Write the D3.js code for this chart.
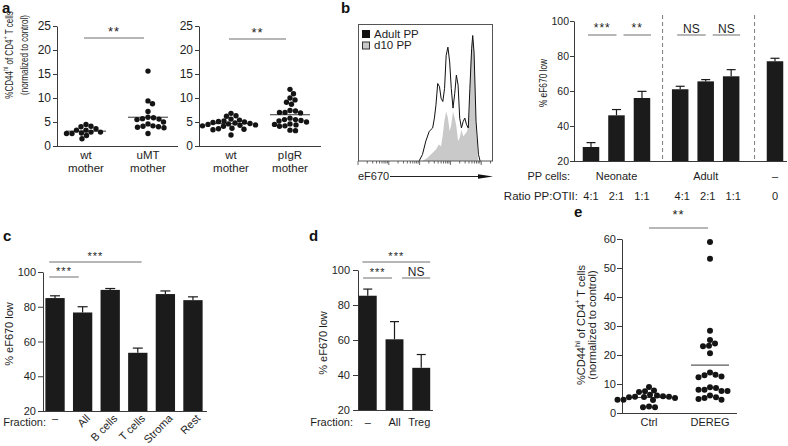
<!DOCTYPE html>
<html><head><meta charset="utf-8">
<script src="https://cdn.jsdelivr.net/npm/d3@7"></script>
<style>
body{margin:0;background:#fff;}
svg{display:block;font-family:"Liberation Sans",Arial,Helvetica,sans-serif;}
</style></head><body>
<svg id="fig" width="788" height="446"></svg>
<script>
// ---------------- DATA ----------------
// panel a (left): %CD44hi of CD4+ T cells
const a1Cats = ["wt", "uMT"];
const a1Wt  = [3.3, 2.9, 2.2, 4.1, 3.3, 1.5, 4.5, 2.9, 2.6, 4.0, 2.7, 2.6, 3.6];
const a1Umt = [15.6, 9.4, 8.8, 7.2, 5.6, 5.9, 5.7, 6.0, 5.5, 5.0, 4.1, 4.0, 4.2, 3.9, 3.8, 2.6, 4.6];
// panel a (right)
const a2Cats = ["wt", "pIgR"];
const a2Wt   = [6.8, 6.3, 6.2, 5.6, 5.4, 5.2, 5.0, 5.1, 4.8, 4.6, 4.4, 4.3, 4.1, 4.5, 4.2, 3.7, 3.5, 3.6, 3.4, 2.3, 4.7, 4.9];
const a2Pigr = [11.8, 10.9, 10.0, 9.6, 9.1, 8.7, 7.4, 7.0, 7.0, 6.9, 7.3, 5.5, 5.2, 5.0, 5.3, 5.5, 4.6, 4.4, 4.2, 4.5, 4.1, 3.2, 3.3, 5.8];
const aTicks = [0, 5, 10, 15, 20, 25];

// panel b histogram (eF670 intensity, % of max count)
const adultX      = [96,124,159,206,265,302,340,387,442,498,567,646,728,830,945,1066,1214,1383,1560,1775,2004,2282,2600,2931,3338,3802,4285,4884,5293,5848,6796,8147,9183];
const adultCounts = [0,4.8,14.5,21.7,24.1,31.3,41.0,56.6,54.2,45.8,43.4,53.0,77.1,83.1,72.3,53.0,38.6,49.4,62.7,55.4,31.3,24.1,28.9,31.3,26.5,24.1,53.0,81.9,91.6,79.5,28.9,4.8,0];
const d10X        = [124,181,265,340,420,498,567,646,728,830,945,1066,1214,1383,1560,1775,2004,2282,2600,2931,3508,4081,4550,5140,5559,6150,6796,7900];
const d10Counts   = [0,2.4,6.0,8.4,12.0,10.8,19.3,30.1,36.1,31.3,21.7,26.5,36.1,31.3,25.3,14.5,16.9,22.9,18.1,19.3,21.7,34,74,89,88,72,26,0];
const histLegend  = ["Adult PP", "d10 PP"];

// panel b bars: % eF670 low
const bGroups = ["Neonate", "Adult", "\u2013"];
const bGroupOf = [0, 0, 0, 1, 1, 1, 2];
const bRatios = ["4:1", "2:1", "1:1", "4:1", "2:1", "1:1", "0"];
const bMeans = [28.0, 46.1, 56.0, 61.0, 65.5, 68.4, 77.0];
const bErr   = [2.5, 3.3, 3.8, 1.7, 1.0, 3.8, 1.7];
const bSig   = [[0, 1, "***"], [1, 2, "**"], [3, 4, "NS"], [4, 5, "NS"]];
const pctTicks = [20, 40, 60, 80, 100];

// panel c
const cCats  = ["\u2013", "All", "B cells", "T cells", "Stroma", "Rest"];
const cMeans = [85.0, 76.7, 89.7, 53.5, 87.3, 83.8];
const cErr   = [1.3, 3.3, 0.8, 2.7, 1.8, 1.9];
const cSig   = [["\u2013", "All", "***"], ["\u2013", "T cells", "***"]];

// panel d
const dCats  = ["\u2013", "All", "Treg"];
const dMeans = [85.3, 60.4, 44.1];
const dErr   = [3.8, 10.1, 7.6];
const dSig   = [["\u2013", "All", "***"], ["All", "Treg", "NS"], ["\u2013", "Treg", "***"]];

// panel e
const eCats  = ["Ctrl", "DEREG"];
const eCtrl  = [9.0, 7.8, 7.2, 7.5, 5.6, 5.4, 5.8, 6.0, 5.5, 5.6, 4.6, 4.5, 4.6, 2.2, 2.0, 2.0, 5.2, 6.3];
const eDereg = [59, 53.2, 28.4, 25.2, 24, 23, 23.2, 20.6, 14, 13, 12.3, 12.6, 13.2, 8.6, 8.0, 7.6, 7.6, 8.0, 8.9, 5.2, 4.8, 4.6, 5.4, 6.0];
const eTicks = [0, 10, 20, 30, 40, 50, 60];

// ---------------- HELPERS ----------------
const svg = d3.select("#fig");
const AX = "#3a3a3a", BAR = "#1b1b1b", DOT = "#141414", SIG = "#6e6e6e", TXT = "#1e1e1e";

function leftAxis(scale, ticks, x, fs, size, pad) {
  const g = svg.append("g").attr("transform", `translate(${x},0)`)
    .call(d3.axisLeft(scale).tickValues(ticks).tickSize(size).tickPadding(pad).tickSizeOuter(0));
  g.select(".domain").attr("stroke", AX);
  g.selectAll(".tick line").attr("stroke", AX);
  g.selectAll(".tick text").attr("fill", TXT).attr("font-size", fs)
    .attr("font-family", '"Liberation Sans",Arial,sans-serif');
  return g;
}
function hLine(x1, x2, y, color) {
  svg.append("line").attr("x1", x1).attr("x2", x2).attr("y1", y).attr("y2", y)
    .attr("stroke", color || AX).attr("stroke-width", 1);
}
function txt(x, y, s, fs, anchor, extra) {
  const t = svg.append("text").attr("x", x).attr("y", y).text(s)
    .attr("font-size", fs).attr("text-anchor", anchor || "middle").attr("fill", TXT);
  if (extra) extra(t);
  return t;
}
function sig(x1, x2, y, label, fs, off) {
  hLine(x1, x2, y, SIG);
  const isStar = label.indexOf("*") >= 0;
  txt((x1 + x2) / 2, y - (off || 2), label, isStar ? fs + 1 : fs, "middle",
      t => t.attr("letter-spacing", isStar ? 1 : 0));
}
function rotTitle(x, y, parts, fs, sx) {
  const t = svg.append("text")
    .attr("transform", `translate(${x},${y}) rotate(-90) scale(${sx || 1},1)`)
    .attr("text-anchor", "middle").attr("font-size", fs).attr("fill", TXT);
  let shifted = false;
  parts.forEach(p => {
    const sp = t.append("tspan").text(p.t);
    if (p.sup) { sp.attr("font-size", fs * 0.68).attr("dy", -fs * 0.42); shifted = true; }
    else if (shifted) { sp.attr("dy", fs * 0.42); shifted = false; }
  });
}
const cd44Title = [{t: "%CD44"}, {t: "hi", sup: true}, {t: " of CD4"}, {t: "+", sup: true}, {t: " T cells"}];

// simple beeswarm: place each point as close to centre as possible without heavy overlap
function swarm(values, yScale, cx, r) {
  const pts = values.map(v => ({v, y: yScale(v)})).sort((a, b) => a.y - b.y);
  const placed = [];
  const d = 2 * r * 0.98;
  pts.forEach(p => {
    for (let k = 0; k < 400; k++) {
      const off = (k % 2 ? 1 : -1) * Math.ceil(k / 2) * 0.5;
      const x = cx + off;
      if (placed.every(q => (q.x - x) ** 2 + (q.y - p.y) ** 2 >= d * d)) { p.x = x; break; }
    }
    placed.push(p);
  });
  return placed;
}
function dotGroup(values, yScale, cx, r, halfW) {
  const m = d3.mean(values);
  hLine(cx - halfW, cx + halfW, yScale(m), "#333");
  svg.append("g").selectAll("circle").data(swarm(values, yScale, cx, r)).join("circle")
    .attr("cx", d => d.x).attr("cy", d => d.y).attr("r", r).attr("fill", DOT);
}
function panelLabel(x, y, s) {
  txt(x, y, s, 15, "start", t => t.attr("font-weight", "bold").attr("fill", "#111"));
}
function bars(cats, means, errs, x, y, bw, cap) {
  const g = svg.append("g");
  cats.forEach((c, i) => {
    const xc = x(c, i);
    g.append("line").attr("x1", xc).attr("x2", xc).attr("y1", y(means[i])).attr("y2", y(means[i] + errs[i]))
      .attr("stroke", BAR).attr("stroke-width", 1.2);
    g.append("line").attr("x1", xc - cap / 2).attr("x2", xc + cap / 2)
      .attr("y1", y(means[i] + errs[i])).attr("y2", y(means[i] + errs[i]))
      .attr("stroke", BAR).attr("stroke-width", 1.2);
    g.append("rect").attr("x", xc - bw / 2).attr("width", bw)
      .attr("y", y(means[i])).attr("height", y.range()[0] - y(means[i])).attr("fill", BAR);
  });
}

// ---------------- PANEL A ----------------
panelLabel(2, 13, "a");
const yA = d3.scaleLinear().domain([0, 25]).range([146, 26]);
rotTitle(13, 55, cd44Title, 11, 0.73);
rotTitle(28, 55, [{t: "(normalized to control)"}], 11, 0.73);

function aPanel(axisX, endX, cats, series, range, sigY) {
  const x = d3.scalePoint().domain(cats).range(range);
  leftAxis(yA, aTicks, axisX, 12, 4, 2);
  hLine(axisX, endX, yA(0) + 0.5);
  series.forEach((vals, i) => dotGroup(vals, yA, x(cats[i]), 2.7, 20));
  cats.forEach(c => {
    txt(x(c), 158.5, c, 11.5);
    txt(x(c), 171.5, "mother", 11.5);
  });
  sig(x(cats[0]) - 2, x(cats[1]) - 4, sigY, "**", 12, 2);
}
aPanel(57, 178, a1Cats, [a1Wt, a1Umt], [86, 148], 38);
aPanel(199, 321, a2Cats, [a2Wt, a2Pigr], [231, 290], 39);

// ---------------- PANEL B (histogram) ----------------
panelLabel(341, 13, "b");
const hx = d3.scaleLog().domain([1, Math.pow(10, 4.35)]).range([358, 492]);
const hy = d3.scaleLinear().domain([0, 100]).range([161, 24]);
svg.append("path").datum(d10X.map((v, i) => [v, d10Counts[i]]))
  .attr("d", d3.area().x(d => hx(d[0])).y0(hy(0)).y1(d => hy(d[1])))
  .attr("fill", "#c9c9c9");
svg.append("path").datum(adultX.map((v, i) => [v, adultCounts[i]]))
  .attr("d", d3.line().x(d => hx(d[0])).y(d => hy(d[1])))
  .attr("fill", "none").attr("stroke", "#111").attr("stroke-width", 1);
svg.append("rect").attr("x", 358.5).attr("y", 24.5).attr("width", 134).attr("height", 136.5)
  .attr("fill", "none").attr("stroke", "#555");
// log ticks under the frame
const hTicks = [];
for (let dec = 0; dec <= 4; dec++) for (let k = 1; k <= 9; k++) {
  const v = k * Math.pow(10, dec);
  if (v <= hx.domain()[1]) hTicks.push({v, major: k === 1});
}
svg.append("g").selectAll("line").data(hTicks).join("line")
  .attr("x1", d => hx(d.v)).attr("x2", d => hx(d.v))
  .attr("y1", 161).attr("y2", d => 161 + (d.major ? 4 : 2.5))
  .attr("stroke", "#444").attr("stroke-width", 0.8);
// legend
svg.append("rect").attr("x", 362.5).attr("y", 30.5).attr("width", 7).attr("height", 7).attr("fill", "#111").attr("stroke", "#111");
svg.append("rect").attr("x", 362.5).attr("y", 42).attr("width", 7).attr("height", 7).attr("fill", "#c9c9c9").attr("stroke", "#333");
txt(374, 37.5, histLegend[0], 11.5, "start");
txt(374, 49, histLegend[1], 11.5, "start");
// axis label with arrow
txt(358, 180, "eF670", 11, "start");
hLine(390, 480, 176.5, "#222");
svg.append("path").attr("d", "M478,174.3 L493,176.5 L478,178.7 Z").attr("fill", "#111");

// ---------------- PANEL B (bars) ----------------
const yB = d3.scaleLinear().domain([20, 100]).range([161, 21]);
const groupGap = [0, 0.5, 1.22];
const bSlot = bMeans.map((_, i) => i + groupGap[bGroupOf[i]]);
const xB = d3.scaleLinear().domain([0, 7.22]).range([591, 775]);
leftAxis(yB, pctTicks, 574, 10.5, 4, 1);
hLine(574, 787, yB(20) + 0.5);
rotTitle(547, 83, [{t: "% eF670 low"}], 11, 0.76);
bars(bMeans, bMeans, bErr, (c, i) => xB(bSlot[i]), yB, 16.5, 9);
// dashed separators
[[2, 3], [5, 6]].forEach(([i, j]) => {
  const xs = xB((bSlot[i] + bSlot[j]) / 2) + 1.5;
  svg.append("line").attr("x1", xs).attr("x2", xs).attr("y1", 15).attr("y2", yB(20))
    .attr("stroke", "#7a7a7a").attr("stroke-dasharray", "4,3");
});
// significance
bSig.forEach(([i, j, lab], k) => {
  const first = k % 2 === 0;
  const x1 = xB(bSlot[i]) + (first ? -3 : 7);
  const x2 = xB(bSlot[j]) + (first ? 0 : 9);
  sig(x1, x2, 35, lab, lab === "NS" ? 12 : 11, lab === "NS" ? 2 : 3);
});
// category rows
txt(570, 180, "PP cells:", 11, "end");
txt(578, 200, "Ratio PP:OTII:", 11.5, "end");
bGroups.forEach((gname, g) => {
  const idx = bGroupOf.map((v, i) => v === g ? i : -1).filter(i => i >= 0);
  const mid = d3.mean(idx.map(i => xB(bSlot[i])));
  txt(mid, 180, gname, 11);
});
bRatios.forEach((r, i) => txt(xB(bSlot[i]) + (bGroupOf[i] === 1 ? 2 : 0), 200, r, 11));

// ---------------- PANEL C ----------------
panelLabel(3, 241, "c");
const yC = d3.scaleLinear().domain([20, 100]).range([411, 272]);
const xC = d3.scaleBand().domain(cCats).range([44, 204]).paddingInner(0.3).paddingOuter(0.05);
const bwC = xC.bandwidth();
leftAxis(yC, pctTicks, 43, 11, 5, 2);
hLine(43, 207, yC(20) + 0.5);
rotTitle(13, 334, [{t: "% eF670 low"}], 11);
bars(cCats, cMeans, cErr, c => xC(c) + bwC / 2, yC, bwC, 10);
sig(xC(cSig[0][0]) + 0.2 * bwC, xC(cSig[0][1]) + 0.3 * bwC, yC(100) + 5, cSig[0][2], 10, 2);
sig(xC(cSig[1][0]) + 0.2 * bwC, xC(cSig[1][1]) + 0.7 * bwC, yC(100) - 10, cSig[1][2], 10, 2);
txt(46, 426, "Fraction:", 11, "end");
cCats.forEach((c, i) => {
  const xc = xC(c) + bwC / 2;
  if (i === 0) txt(xc, 422, c, 11);
  else txt(xc + 8, 419, c, 11, "end", t => t.attr("transform", `rotate(-45,${xc + 8},419)`));
});

// ---------------- PANEL D ----------------
panelLabel(309, 241, "d");
const yD = d3.scaleLinear().domain([20, 100]).range([410, 270]);
const xD = d3.scaleBand().domain(dCats).range([358, 431]).paddingInner(0.33).paddingOuter(0.03);
const bwD = xD.bandwidth();
leftAxis(yD, pctTicks, 358, 11, 5, 3);
hLine(358, 433, yD(20) + 0.5);
rotTitle(326.5, 343, [{t: "% eF670 low"}], 11);
bars(dCats, dMeans, dErr, c => xD(c) + bwD / 2, yD, bwD, 9);
sig(xD(dSig[0][0]) + 0.24 * bwD, xD(dSig[0][1]) + 0.36 * bwD, yD(100) + 8, dSig[0][2], 10, 2);
sig(xD(dSig[1][0]) + 0.92 * bwD, xD(dSig[1][1]) + bwD, yD(100) + 8, dSig[1][2], 12, 2);
sig(xD(dSig[2][0]) + 0.2 * bwD, xD(dSig[2][1]) + bwD, yD(100) - 8, dSig[2][2], 10, 2);
txt(353, 426, "Fraction:", 11, "end");
dCats.forEach(c => txt(xD(c) + bwD / 2 + (c === "Treg" ? -2 : 0), 426, c, 11));

// ---------------- PANEL E ----------------
panelLabel(574, 217, "e");
const yE = d3.scaleLinear().domain([0, 60]).range([413, 239]);
const xE = d3.scalePoint().domain(eCats).range([649, 710]);
leftAxis(yE, eTicks, 622, 11, 5, 1);
hLine(622, 737, yE(0) + 0.5);
rotTitle(585, 325, cd44Title, 11);
rotTitle(595.5, 325, [{t: "(normalized to control)"}], 11);
dotGroup(eCtrl, yE, xE("Ctrl"), 3, 19);
dotGroup(eDereg, yE, xE("DEREG"), 3, 19);
eCats.forEach(c => txt(xE(c), 426, c, 11));
sig(xE("Ctrl"), xE("DEREG") - 2, 228, "**", 12, 9);
</script>
</body></html>
